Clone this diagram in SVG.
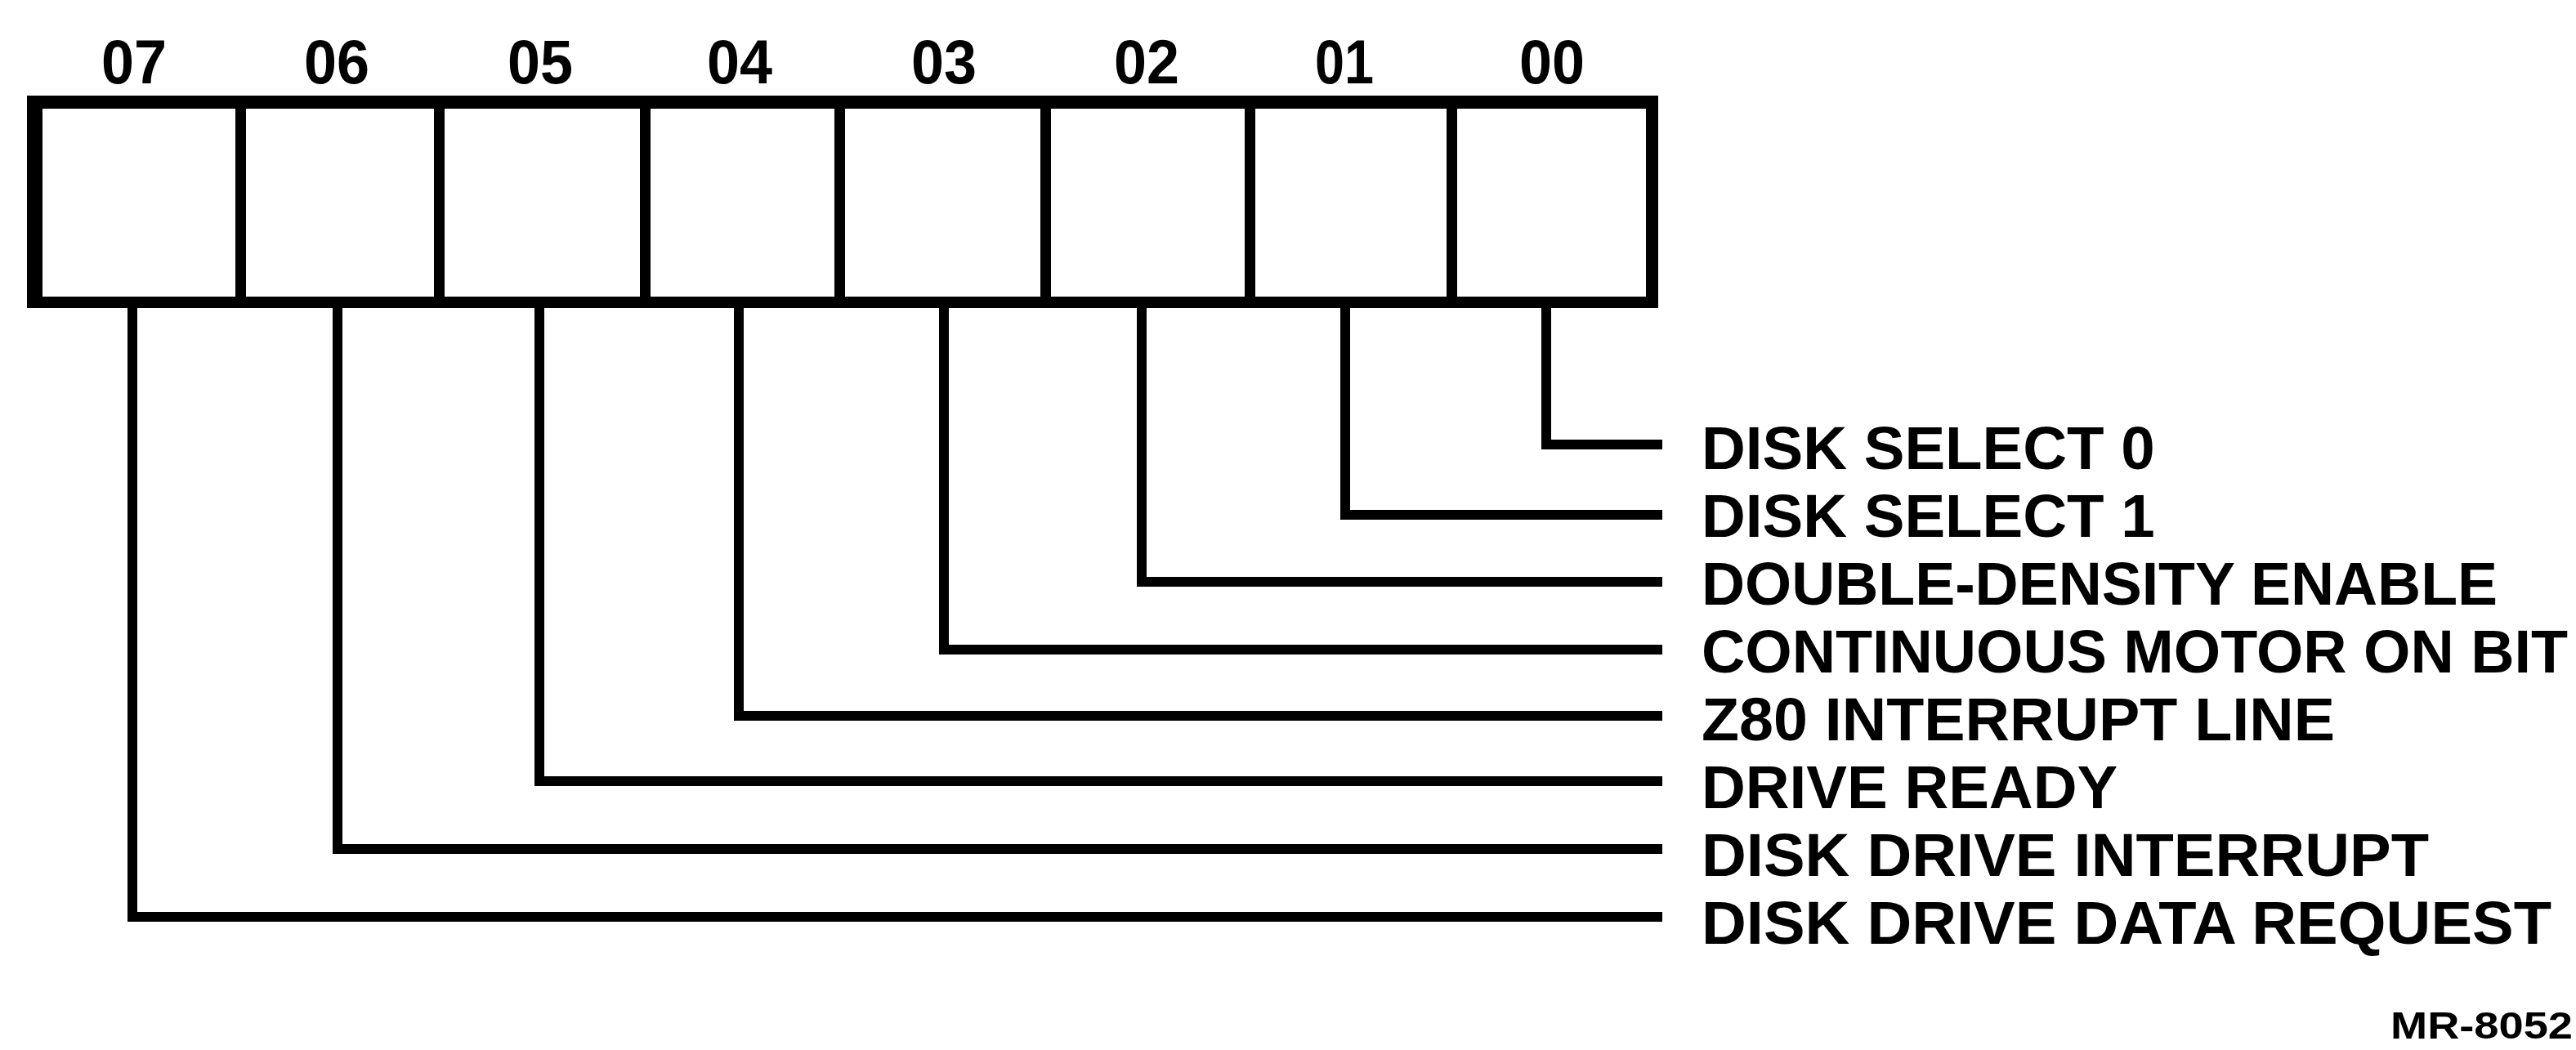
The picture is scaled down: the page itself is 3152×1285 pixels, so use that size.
<svg xmlns="http://www.w3.org/2000/svg" width="3152" height="1285" viewBox="0 0 3152 1285">
<style>
  .bg { fill: #ffffff; }
  .frame { fill: #000000; fill-rule: evenodd; }
  .div { fill: #000000; }
  .conn { fill: none; stroke: #000000; stroke-width: 12; stroke-linejoin: miter; stroke-linecap: butt; }
  .bit { font-family: "Liberation Sans", Arial, sans-serif; font-weight: bold; font-size: 76px; fill: #000000; text-anchor: middle; }
  .lbl { font-family: "Liberation Sans", Arial, sans-serif; font-weight: bold; font-size: 74.5px; fill: #000000; }
  .ref { font-family: "Liberation Sans", Arial, sans-serif; font-weight: bold; font-size: 46px; fill: #000000; }
</style>
<rect class="bg" x="0" y="0" width="3152" height="1285"/>

<g id="register">
  <path class="frame" d="M33,117 H2029 V377 H33 Z M52,133 V363 H2014 V133 Z"/>
  <rect class="div" x="288" y="125" width="13" height="245"/>
  <rect class="div" x="531" y="125" width="13" height="245"/>
  <rect class="div" x="783" y="125" width="13" height="245"/>
  <rect class="div" x="1021" y="125" width="13" height="245"/>
  <rect class="div" x="1273" y="125" width="13" height="245"/>
  <rect class="div" x="1523" y="125" width="13" height="245"/>
  <rect class="div" x="1770" y="125" width="13" height="245"/>
</g>

<g id="bit-numbers">
  <text class="bit" x="164" y="102" textLength="80" lengthAdjust="spacingAndGlyphs">07</text>
  <text class="bit" x="412" y="102" textLength="80" lengthAdjust="spacingAndGlyphs">06</text>
  <text class="bit" x="661" y="102" textLength="80" lengthAdjust="spacingAndGlyphs">05</text>
  <text class="bit" x="905" y="102" textLength="80" lengthAdjust="spacingAndGlyphs">04</text>
  <text class="bit" x="1155" y="102" textLength="80" lengthAdjust="spacingAndGlyphs">03</text>
  <text class="bit" x="1403" y="102" textLength="80" lengthAdjust="spacingAndGlyphs">02</text>
  <text class="bit" x="1645" y="102" textLength="72" lengthAdjust="spacingAndGlyphs">01</text>
  <text class="bit" x="1899" y="102" textLength="80" lengthAdjust="spacingAndGlyphs">00</text>
</g>

<g id="connectors">
  <path class="conn" d="M1892,377 V544 H2034"/>
  <path class="conn" d="M1646,377 V630 H2034"/>
  <path class="conn" d="M1397,377 V712 H2034"/>
  <path class="conn" d="M1155,377 V795 H2034"/>
  <path class="conn" d="M904,377 V876 H2034"/>
  <path class="conn" d="M660,377 V956 H2034"/>
  <path class="conn" d="M413,377 V1039 H2034"/>
  <path class="conn" d="M162,377 V1122 H2034"/>
</g>

<g id="label-00"><text class="lbl" x="2082" y="574">DISK SELECT 0</text></g>
<g id="label-01"><text class="lbl" x="2082" y="657">DISK SELECT 1</text></g>
<g id="label-02"><text class="lbl" x="2082" y="740" textLength="974" lengthAdjust="spacingAndGlyphs">DOUBLE-DENSITY ENABLE</text></g>
<g id="label-03"><text class="lbl" x="2082" y="823" textLength="1060" lengthAdjust="spacingAndGlyphs">CONTINUOUS MOTOR ON BIT</text></g>
<g id="label-04"><text class="lbl" x="2082" y="906" textLength="775" lengthAdjust="spacingAndGlyphs">Z80 INTERRUPT LINE</text></g>
<g id="label-05"><text class="lbl" x="2082" y="989">DRIVE READY</text></g>
<g id="label-06"><text class="lbl" x="2082" y="1072" textLength="890" lengthAdjust="spacingAndGlyphs">DISK DRIVE INTERRUPT</text></g>
<g id="label-07"><text class="lbl" x="2082" y="1155" textLength="1040" lengthAdjust="spacingAndGlyphs">DISK DRIVE DATA REQUEST</text></g>

<g id="figure-ref"><text class="ref" x="2925" y="1271" textLength="223" lengthAdjust="spacingAndGlyphs">MR-8052</text></g>
</svg>
